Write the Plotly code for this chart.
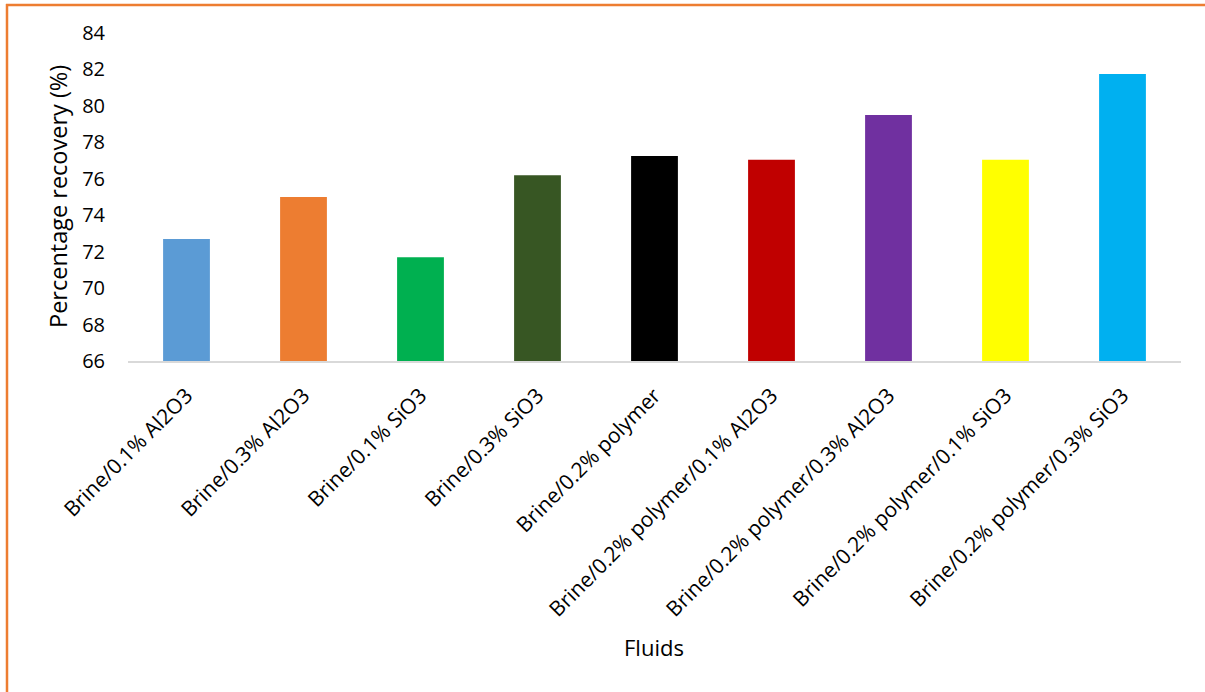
import plotly.graph_objects as go

categories = [
    "Brine/0.1% Al2O3",
    "Brine/0.3% Al2O3",
    "Brine/0.1% SiO3",
    "Brine/0.3% SiO3",
    "Brine/0.2% polymer",
    "Brine/0.2% polymer/0.1% Al2O3",
    "Brine/0.2% polymer/0.3% Al2O3",
    "Brine/0.2% polymer/0.1% SiO3",
    "Brine/0.2% polymer/0.3% SiO3",
]
recovery = [72.7, 75.0, 71.7, 76.2, 77.25, 77.05, 79.5, 77.05, 81.75]
bar_colors = ["#5B9BD5", "#ED7D31", "#00B050", "#375623", "#000000",
              "#C00000", "#7030A0", "#FFFF00", "#00B0F0"]
y_ticks = [66, 68, 70, 72, 74, 76, 78, 80, 82, 84]

W, H = 1205, 692
L, R, T, B = 128, 1181, 33, 361  # plot area in pixels


def px_x(px):
    return (px - L) / (R - L)


def px_y(py):
    return (B - py) / (B - T)


FONT = "Open Sans"

fig = go.Figure(go.Bar(
    x=categories, y=recovery, marker_color=bar_colors,
    marker_line_width=0, width=0.40,
))

fig.update_layout(
    width=W, height=H,
    margin=dict(l=L, r=W - R, t=T, b=H - B),
    paper_bgcolor="white", plot_bgcolor="white",
    showlegend=False,
    font=dict(family=FONT, size=20, color="#000000"),
    xaxis=dict(
        tickangle=-45, showgrid=False, showline=True, linecolor="#D9D9D9",
        linewidth=2, ticks="outside", ticklen=12, tickcolor="rgba(0,0,0,0)",
        tickfont=dict(family=FONT, size=21), range=[-0.5, 8.5],
    ),
    yaxis=dict(
        range=[66, 84], tickvals=y_ticks, showgrid=False, showline=False,
        zeroline=False, ticks="outside", ticklen=18,
        tickcolor="rgba(0,0,0,0)", tickfont=dict(family=FONT, size=20),
    ),
    shapes=[
        dict(type="line", xref="paper", yref="paper",
             x0=px_x(6), x1=px_x(W + 5), y0=px_y(5), y1=px_y(5),
             line=dict(color="#ED7D31", width=2.5)),
        dict(type="line", xref="paper", yref="paper",
             x0=px_x(7), x1=px_x(7), y0=px_y(4), y1=px_y(H + 5),
             line=dict(color="#ED7D31", width=2.5)),
    ],
    annotations=[
        dict(text="Fluids", xref="paper", yref="paper",
             x=px_x(654), y=px_y(647), showarrow=False,
             xanchor="center", yanchor="middle",
             font=dict(family=FONT, size=22)),
        dict(text="Percentage recovery (%)", xref="paper", yref="paper",
             x=px_x(58), y=px_y(197), showarrow=False, textangle=-90,
             xanchor="center", yanchor="middle",
             font=dict(family=FONT, size=23.5)),
    ],
)

fig.write_html(
    "out.html",
    config={"displayModeBar": False},
    post_script="document.body.style.margin='0';document.body.style.overflow='hidden';",
)
